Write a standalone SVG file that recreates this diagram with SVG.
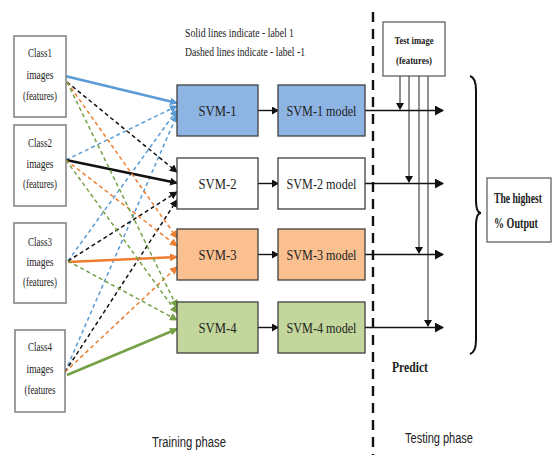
<svg xmlns="http://www.w3.org/2000/svg" width="554" height="455" viewBox="0 0 554 455">
<style>
.cls{fill:#fff;stroke:#7f7f7f;stroke-width:1.5}
.svm{stroke:#3f3f3f;stroke-width:1.3}
.t{font-family:"Liberation Serif",serif;fill:#222}
.ct{font-size:12px;text-anchor:middle}
.st{font-size:15px;text-anchor:middle}
.b{font-weight:bold}
.ph{font-family:"Liberation Sans",sans-serif;font-size:14px;fill:#222}
.blue{stroke:#5b9bd5}
.black{stroke:#111}
.orange{stroke:#ed7d31}
.green{stroke:#76a046}
.sol{stroke-width:2.6;fill:none}
.dash{stroke-width:1.5;stroke-dasharray:4 3;fill:none}
.k{stroke:#111;fill:none;stroke-width:1.4}
.thin{stroke:#222;fill:none;stroke-width:1}
</style>
<defs>
<marker id="mb" markerWidth="8" markerHeight="8" refX="7" refY="4" orient="auto" markerUnits="userSpaceOnUse"><path d="M0,0 L8,4 L0,8 z" fill="#5b9bd5"/></marker>
<marker id="mk" markerWidth="8" markerHeight="8" refX="7" refY="4" orient="auto" markerUnits="userSpaceOnUse"><path d="M0,0 L8,4 L0,8 z" fill="#111"/></marker>
<marker id="mo" markerWidth="8" markerHeight="8" refX="7" refY="4" orient="auto" markerUnits="userSpaceOnUse"><path d="M0,0 L8,4 L0,8 z" fill="#ed7d31"/></marker>
<marker id="mg" markerWidth="8" markerHeight="8" refX="7" refY="4" orient="auto" markerUnits="userSpaceOnUse"><path d="M0,0 L8,4 L0,8 z" fill="#76a046"/></marker>
<marker id="ma" markerWidth="9" markerHeight="10" refX="8" refY="5" orient="auto" markerUnits="userSpaceOnUse"><path d="M0,0 L9,5 L0,10 z" fill="#111"/></marker>
<marker id="ms" markerWidth="7" markerHeight="8" refX="6" refY="4" orient="auto" markerUnits="userSpaceOnUse"><path d="M0,0 L7,4 L0,8 z" fill="#111"/></marker>
</defs>
<rect width="554" height="455" fill="#fff"/>

<!-- legend -->
<g id="legend">
<text class="t" x="185" y="37" font-size="12" textLength="109" lengthAdjust="spacingAndGlyphs">Solid lines indicate - label 1</text>
<text class="t" x="185" y="56" font-size="12" textLength="120" lengthAdjust="spacingAndGlyphs">Dashed lines indicate - label -1</text>
</g>

<!-- connectors -->
<g id="connectors">
<!-- to SVM-1 -->
<line class="blue sol" x1="65" y1="76" x2="177" y2="103" marker-end="url(#mb)"/>
<line class="blue dash" x1="66" y1="160" x2="177" y2="106" marker-end="url(#mb)"/>
<line class="blue dash" x1="68" y1="261" x2="177" y2="110" marker-end="url(#mb)"/>
<line class="blue dash" x1="65" y1="372" x2="177" y2="115" marker-end="url(#mb)"/>
<!-- to SVM-2 -->
<line class="black dash" x1="67" y1="82" x2="177" y2="172" marker-end="url(#mk)"/>
<line class="black sol" x1="66" y1="160" x2="177" y2="183" marker-end="url(#mk)"/>
<line class="black dash" x1="68" y1="261" x2="177" y2="192" marker-end="url(#mk)"/>
<line class="black dash" x1="65" y1="372" x2="177" y2="200" marker-end="url(#mk)"/>
<!-- to SVM-3 -->
<line class="orange dash" x1="67" y1="82" x2="177" y2="238" marker-end="url(#mo)"/>
<line class="orange dash" x1="66" y1="160" x2="177" y2="246" marker-end="url(#mo)"/>
<line class="orange sol" x1="68" y1="262" x2="177" y2="257" marker-end="url(#mo)"/>
<line class="orange dash" x1="65" y1="372" x2="177" y2="267" marker-end="url(#mo)"/>
<!-- to SVM-4 -->
<line class="green dash" x1="67" y1="82" x2="177" y2="307" marker-end="url(#mg)"/>
<line class="green dash" x1="66" y1="160" x2="177" y2="313" marker-end="url(#mg)"/>
<line class="green dash" x1="68" y1="261" x2="177" y2="320" marker-end="url(#mg)"/>
<line class="green sol" x1="67" y1="375" x2="177" y2="329" marker-end="url(#mg)"/>
<!-- SVM to model -->
<line class="k" x1="258" y1="110.5" x2="278" y2="110.5" marker-end="url(#ms)"/>
<line class="k" x1="258" y1="183.5" x2="278" y2="183.5" marker-end="url(#ms)"/>
<line class="k" x1="258" y1="254.5" x2="278" y2="254.5" marker-end="url(#ms)"/>
<line class="k" x1="258" y1="327.5" x2="278" y2="327.5" marker-end="url(#ms)"/>
<!-- outputs -->
<line class="k" x1="365" y1="110.5" x2="443" y2="110.5" marker-end="url(#ma)"/>
<line class="k" x1="365" y1="183.5" x2="443" y2="183.5" marker-end="url(#ma)"/>
<line class="k" x1="365" y1="254.5" x2="443" y2="254.5" marker-end="url(#ma)"/>
<line class="k" x1="365" y1="327.5" x2="443" y2="327.5" marker-end="url(#ma)"/>
<!-- test image feeds -->
<line class="thin" x1="400" y1="76" x2="400" y2="109" marker-end="url(#ms)"/>
<line class="thin" x1="409" y1="76" x2="409" y2="182" marker-end="url(#ms)"/>
<line class="thin" x1="419" y1="76" x2="419" y2="253" marker-end="url(#ms)"/>
<line class="thin" x1="428" y1="76" x2="428" y2="326" marker-end="url(#ms)"/>
</g>

<!-- divider -->
<line x1="373" y1="12" x2="373" y2="455" stroke="#111" stroke-width="2.4" stroke-dasharray="10 7"/>

<!-- class boxes -->
<g id="class1"><rect class="cls" x="14" y="36" width="52" height="81"/>
<text class="t ct" x="40" y="57" textLength="24" lengthAdjust="spacingAndGlyphs">Class1</text>
<text class="t ct" x="40" y="79" textLength="27" lengthAdjust="spacingAndGlyphs">images</text>
<text class="t ct" x="40" y="100" textLength="34" lengthAdjust="spacingAndGlyphs">(features)</text></g>
<g id="class2"><rect class="cls" x="14" y="125" width="52" height="81"/>
<text class="t ct" x="40" y="147" textLength="24" lengthAdjust="spacingAndGlyphs">Class2</text>
<text class="t ct" x="40" y="168" textLength="27" lengthAdjust="spacingAndGlyphs">images</text>
<text class="t ct" x="40" y="188" textLength="34" lengthAdjust="spacingAndGlyphs">(features)</text></g>
<g id="class3"><rect class="cls" x="14" y="223" width="52" height="80"/>
<text class="t ct" x="40" y="246" textLength="24" lengthAdjust="spacingAndGlyphs">Class3</text>
<text class="t ct" x="40" y="266" textLength="27" lengthAdjust="spacingAndGlyphs">images</text>
<text class="t ct" x="40" y="286" textLength="34" lengthAdjust="spacingAndGlyphs">(features)</text></g>
<g id="class4"><rect class="cls" x="15" y="330" width="50" height="82"/>
<text class="t ct" x="40" y="351" textLength="24" lengthAdjust="spacingAndGlyphs">Class4</text>
<text class="t ct" x="40" y="373" textLength="27" lengthAdjust="spacingAndGlyphs">images</text>
<text class="t ct" x="40" y="394" textLength="31" lengthAdjust="spacingAndGlyphs">(features</text></g>

<!-- SVM boxes -->
<g id="svm1"><rect class="svm" x="177" y="85" width="81" height="51" fill="#8db4e2"/>
<text class="t st" x="217.5" y="115.5" textLength="38" lengthAdjust="spacingAndGlyphs">SVM-1</text></g>
<g id="svm1model"><rect class="svm" x="278" y="85" width="87" height="51" fill="#8db4e2"/>
<text class="t st" x="321.5" y="115.5" textLength="70" lengthAdjust="spacingAndGlyphs">SVM-1 model</text></g>
<g id="svm2"><rect class="svm" x="177" y="158" width="81" height="51" fill="#fff"/>
<text class="t st" x="217.5" y="188.5" textLength="38" lengthAdjust="spacingAndGlyphs">SVM-2</text></g>
<g id="svm2model"><rect class="svm" x="278" y="158" width="87" height="51" fill="#fff"/>
<text class="t st" x="321.5" y="188.5" textLength="70" lengthAdjust="spacingAndGlyphs">SVM-2 model</text></g>
<g id="svm3"><rect class="svm" x="177" y="229" width="81" height="51" fill="#fac090"/>
<text class="t st" x="217.5" y="259.5" textLength="38" lengthAdjust="spacingAndGlyphs">SVM-3</text></g>
<g id="svm3model"><rect class="svm" x="278" y="229" width="87" height="51" fill="#fac090"/>
<text class="t st" x="321.5" y="259.5" textLength="70" lengthAdjust="spacingAndGlyphs">SVM-3 model</text></g>
<g id="svm4"><rect class="svm" x="177" y="302" width="81" height="51" fill="#c3d69b"/>
<text class="t st" x="217.5" y="332.5" textLength="38" lengthAdjust="spacingAndGlyphs">SVM-4</text></g>
<g id="svm4model"><rect class="svm" x="278" y="302" width="87" height="51" fill="#c3d69b"/>
<text class="t st" x="321.5" y="332.5" textLength="70" lengthAdjust="spacingAndGlyphs">SVM-4 model</text></g>

<!-- test image -->
<g id="testimage"><rect x="383" y="22" width="62" height="54" fill="#fff" stroke="#555" stroke-width="1.2"/>
<text class="t b" x="414" y="44" font-size="11" text-anchor="middle" textLength="39" lengthAdjust="spacingAndGlyphs">Test image</text>
<text class="t b" x="414" y="64" font-size="11" text-anchor="middle" textLength="36" lengthAdjust="spacingAndGlyphs">(features)</text></g>

<!-- brace -->
<path d="M470,76 Q476,78 476,90 L476,200 Q476,213 481,213 Q476,213 476,226 L476,340 Q476,352 470,354" fill="none" stroke="#111" stroke-width="2"/>

<!-- output -->
<g id="output"><rect x="487" y="178" width="64" height="64" fill="#fff" stroke="#555" stroke-width="1.2"/>
<text class="t b" font-size="14" transform="translate(494,203) scale(0.69,1)">The highest</text>
<text class="t b" font-size="14" transform="translate(494,228) scale(0.72,1)">% Output</text></g>

<text class="t b" x="392" y="372" font-size="14" textLength="36" lengthAdjust="spacingAndGlyphs">Predict</text>
<text class="ph" x="152" y="447" textLength="74" lengthAdjust="spacingAndGlyphs">Training phase</text>
<text class="ph" x="405" y="443" textLength="68" lengthAdjust="spacingAndGlyphs">Testing phase</text>
</svg>
